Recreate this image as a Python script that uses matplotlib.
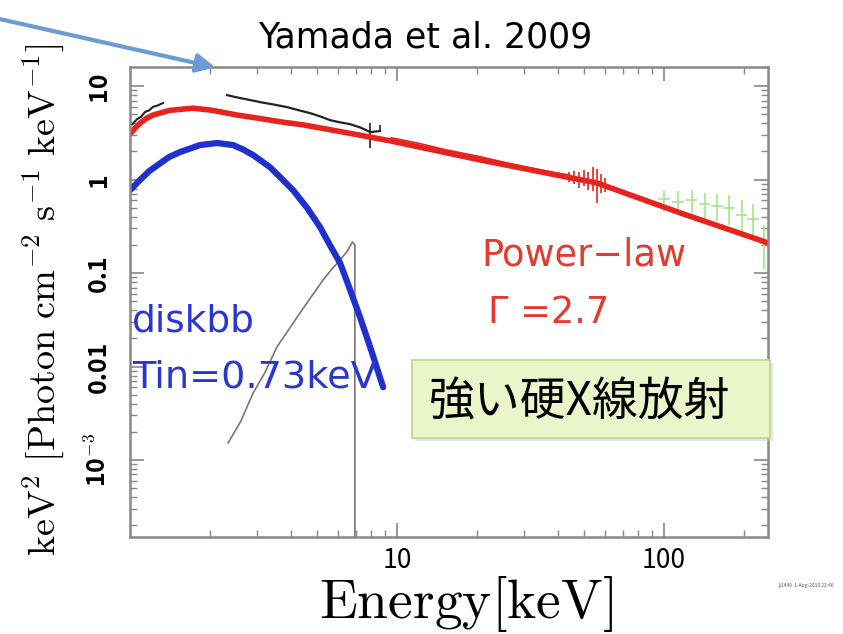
import matplotlib
matplotlib.use("Agg")
from matplotlib import pyplot as plt
from matplotlib.patches import Rectangle

plt.rcParams['font.family'] = ['Noto Sans CJK JP', 'DejaVu Sans']
plt.rcParams['mathtext.fontset'] = 'cm'

# total model (red)
model_e = [1.0, 1.05, 1.09, 1.15, 1.22, 1.41, 1.72, 2.04, 2.52, 3.07, 3.65, 4.44, 6.0, 9.4, 20.5, 56, 115, 245]
model_v = [3.07, 3.6, 4.0, 4.5, 4.9, 5.5, 5.8, 5.5, 4.9, 4.5, 4.15, 3.85, 3.3, 2.6, 1.62, 0.92, 0.44, 0.21]

# diskbb (blue)
disk_e = [1.0, 1.09, 1.18, 1.30, 1.4, 1.54, 1.83, 2.12, 2.43, 2.65, 2.89, 3.34, 3.65, 4.08, 4.6,
          5.15, 5.6, 6.12, 6.6, 7.26, 8.0, 8.87]
disk_v = [0.77, 0.99, 1.23, 1.5, 1.74, 1.97, 2.34, 2.46, 2.34, 2.1, 1.83, 1.36, 1.06, 0.77, 0.50,
          0.31, 0.20, 0.128, 0.072, 0.034, 0.015, 0.006]

# reflection-like component (gray)
refl_e = [2.33, 2.6, 2.89, 3.2, 3.55, 3.9, 4.33, 4.8, 5.28, 5.7, 6.12, 6.5, 6.8, 6.95, 6.95]
refl_v = [1.52e-3, 2.6e-3, 5.2e-3, 8.6e-3, 0.0162, 0.024, 0.0374, 0.057, 0.084, 0.11, 0.138, 0.17, 0.215, 0.2, 1e-6]

# XIS data (black)
xis1_e = [1.02, 1.06, 1.10, 1.14, 1.18, 1.22, 1.27, 1.33]
xis1_v = [3.9, 4.4, 4.7, 5.3, 5.5, 6.0, 6.2, 6.6]
xis2_e = [2.31, 2.5, 2.81, 3.1, 3.4, 3.87, 4.3, 4.72, 5.2, 5.61, 6.1, 6.66, 7.3, 7.93, 8.6]
xis2_v = [8.0, 7.6, 7.1, 6.7, 6.4, 5.96, 5.5, 5.14, 4.7, 4.32, 4.1, 3.92, 3.6, 3.22, 3.3]
xis_err_e = [7.93, 8.6]
xis_err_lo = [2.2, 3.2]
xis_err_hi = [4.0, 3.8]

# PIN data (red, thin)
pin_e = [9.5, 12, 15, 20, 26, 33, 40, 44]
pin_v = [2.8, 2.45, 2.1, 1.78, 1.5, 1.3, 1.17, 1.12]
pin_err_e = [44, 46, 48, 50, 52, 54, 56, 58, 60]
pin_err_v = [1.08, 1.05, 1.0, 1.0, 0.97, 0.95, 0.93, 0.9, 0.88]
pin_err_lo = [0.95, 0.9, 0.82, 0.85, 0.78, 0.75, 0.56, 0.72, 0.74]
pin_err_hi = [1.2, 1.22, 1.2, 1.25, 1.2, 1.36, 1.3, 1.15, 1.05]

# GSO data (green)
gso_e = [100, 113, 127, 142, 158, 175, 195, 215, 237]
gso_v = [0.62, 0.58, 0.60, 0.55, 0.52, 0.50, 0.42, 0.38, 0.22]
gso_lo = [0.45, 0.42, 0.42, 0.38, 0.36, 0.33, 0.27, 0.24, 0.11]
gso_hi = [0.78, 0.75, 0.78, 0.72, 0.70, 0.68, 0.60, 0.55, 0.33]

ytick_vals = [10, 1, 0.1, 0.01, 1e-3]
ytick_labels = ['10', '1', '0.1', '0.01', r'10$^{-3}$']

fig = plt.figure(figsize=(8.43, 6.34), dpi=100)
ax = fig.add_axes([130 / 843, 1 - 537 / 634, 638 / 843, 470 / 634])

ax.plot(refl_e, refl_v, color='#777777', lw=1.2)
ax.plot(xis1_e, xis1_v, color='#222222', lw=1.5)
ax.plot(xis2_e, xis2_v, color='#222222', lw=1.6)
ax.vlines(xis_err_e, xis_err_lo, xis_err_hi, color='#222222', lw=1.2)
ax.plot(pin_e, pin_v, color='#e8231c', lw=1.2)
ax.vlines(pin_err_e, pin_err_lo, pin_err_hi, color='#e8231c', lw=1.2)
ax.plot(pin_err_e, pin_err_v, color='#e8231c', lw=1.2)
ax.vlines(gso_e, gso_lo, gso_hi, color='#a6e48a', lw=1.2)
ax.errorbar(gso_e, gso_v, xerr=[[e * 0.05 for e in gso_e], [e * 0.05 for e in gso_e]],
            fmt='none', ecolor='#a6e48a', elinewidth=1.2)
ax.plot(disk_e, disk_v, color='#1f2fd0', lw=4.5, solid_capstyle='round')
ax.plot(model_e, model_v, color='#e8231c', lw=4, solid_capstyle='round')

ax.set_xscale('log')
ax.set_yscale('log')
ax.set_xlim(1.0, 245)
ax.set_ylim(1.5e-4, 16)

ax.set_xticks([10, 100])
ax.set_xticklabels(['10', '100'], fontsize=19)
ax.set_yticks(ytick_vals)
ax.set_yticklabels(ytick_labels, fontsize=18, rotation=90, va='center', fontweight='bold')
ax.tick_params(which='both', direction='in', top=True, right=True, color='#888888')
ax.tick_params(which='major', length=10, width=1.2)
ax.tick_params(which='minor', length=5, width=1.0)
ax.tick_params(axis='x', pad=7)
ax.tick_params(axis='y', pad=14)
for s in ax.spines.values():
    s.set_color('#888888')
    s.set_linewidth(1.8)

ax.set_xlabel(r'$\mathrm{Energy[keV]}$', fontsize=40)
ax.xaxis.set_label_coords((466 - 130) / 638, -(604 - 537) / 470)
ax.xaxis.label.set_va('center')
ax.set_ylabel(r'$\mathrm{keV^2\ [Photon\ cm^{-2}\ s^{-1}\ keV^{-1}]}$', fontsize=27.5)
ax.yaxis.set_label_coords(-(130 - 43) / 638, (537 - 300) / 470)
ax.yaxis.label.set_va('center')

latin = ['DejaVu Sans']
fig.text(425 / 843, 1 - 38 / 634, 'Yamada et al. 2009', fontsize=25, ha='center', va='center', family=latin)

fig.text(481 / 843, 1 - 255 / 634, 'Power\u2212law', fontsize=26.5, color='#e53a2e', va='center', family=latin)
fig.text(488 / 843, 1 - 312 / 634, '\u0393 =2.7', fontsize=26.5, color='#e53a2e', va='center', family=latin)
fig.text(132 / 843, 1 - 322 / 634, 'diskbb', fontsize=27, color='#2a36d0', va='center', family=latin)
fig.text(132 / 843, 1 - 378 / 634, 'Tin=0.73keV', fontsize=27.5, color='#2a36d0', va='center', family=latin)

fig.add_artist(Rectangle((415 / 843, 1 - 441 / 634), 358 / 843, 78 / 634,
                         transform=fig.transFigure, fc='#cccccc', ec='none', alpha=0.5))
fig.add_artist(Rectangle((412 / 843, 1 - 438 / 634), 358 / 843, 78 / 634,
                         transform=fig.transFigure, fc='#eaf6c9', ec='#b9d88a', lw=1.2))
fig.text(580 / 843, 1 - 402 / 634, '強い硬X線放射', fontsize=33, ha='center', va='center')

ax.annotate('', xy=(218, 634 - 68), xytext=(-5, 634 - 18), xycoords='figure pixels',
            textcoords='figure pixels',
            arrowprops=dict(arrowstyle='-|>', color='#6b9bd2', lw=3, mutation_scale=28))

fig.text(778 / 843, 1 - 585 / 634, 'jl1449  1-Aug-2010 22:46', fontsize=3.5, color='#555555', va='center')

fig.savefig('out.png', dpi=100)
